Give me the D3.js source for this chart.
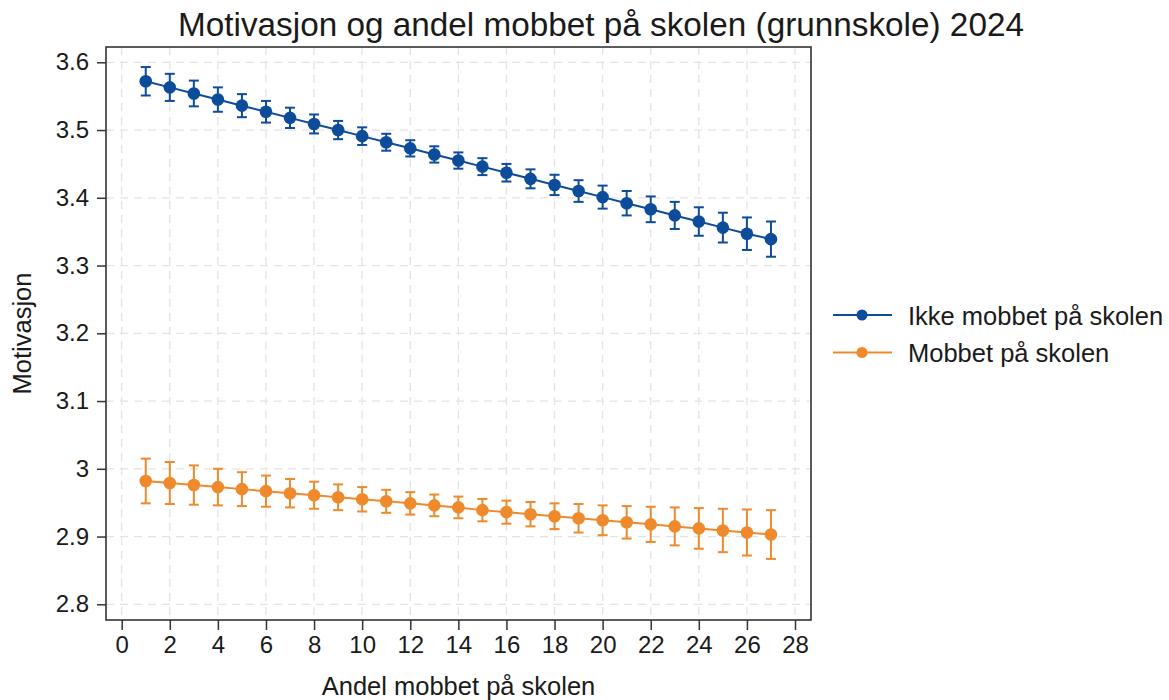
<!DOCTYPE html>
<html>
<head>
<meta charset="utf-8">
<script src="https://cdn.jsdelivr.net/npm/d3@7"></script>
<style>
  html, body { margin: 0; padding: 0; background: #ffffff; }
  svg { display: block; font-family: "Liberation Sans", Arial, sans-serif; }
</style>
</head>
<body>
<svg id="chart" width="1169" height="700"></svg>
<script>
// ---- Data ----
const xValues = [1,2,3,4,5,6,7,8,9,10,11,12,13,14,15,16,17,18,19,20,21,22,23,24,25,26,27];
const ikkeMobbet = [3.572,3.563,3.554,3.545,3.536,3.527,3.518,3.509,3.500,3.491,3.482,3.473,3.464,3.455,3.446,3.437,3.428,3.419,3.410,3.401,3.392,3.383,3.374,3.365,3.356,3.347,3.339];
const ikkeMobbetCI = [0.021,0.020,0.019,0.018,0.017,0.016,0.015,0.014,0.0135,0.013,0.0125,0.012,0.012,0.012,0.0125,0.013,0.014,0.015,0.016,0.017,0.018,0.019,0.020,0.021,0.022,0.024,0.026];
const mobbet = [2.982,2.979,2.976,2.973,2.970,2.967,2.964,2.961,2.958,2.955,2.952,2.949,2.946,2.943,2.939,2.936,2.933,2.930,2.927,2.924,2.921,2.918,2.915,2.912,2.909,2.906,2.903];
const mobbetCI = [0.033,0.031,0.029,0.027,0.025,0.023,0.021,0.020,0.019,0.018,0.017,0.0165,0.016,0.016,0.0165,0.017,0.018,0.019,0.021,0.022,0.024,0.026,0.028,0.030,0.032,0.034,0.036];
const seriesNames = ["Ikke mobbet på skolen", "Mobbet på skolen"];
const xTicks = [0,2,4,6,8,10,12,14,16,18,20,22,24,26,28];
const yTicks = [2.8,2.9,3.0,3.1,3.2,3.3,3.4,3.5,3.6];
const titleText = "Motivasjon og andel mobbet på skolen (grunnskole) 2024";
const xTitle = "Andel mobbet på skolen";
const yTitle = "Motivasjon";

// ---- Layout ----
const colors = ["#0d4c9a", "#ee8a2c"];
const frame = { left: 106, right: 811, top: 47, bottom: 620 };
const svg = d3.select("#chart");

const x = d3.scaleLinear().domain([0, 28]).range([121.7, 795]);
const y = d3.scaleLinear().domain([2.8, 3.6]).range([604.3, 62.3]);

// grid
const grid = svg.append("g").attr("stroke", "#e4e4e4").attr("stroke-width", 1.3).attr("stroke-dasharray", "8,6");
grid.selectAll("line.h").data(yTicks).join("line").attr("class", "h")
  .attr("x1", frame.left).attr("x2", frame.right)
  .attr("y1", d => y(d)).attr("y2", d => y(d));
grid.selectAll("line.v").data(xTicks).join("line").attr("class", "v")
  .attr("y1", frame.top).attr("y2", frame.bottom)
  .attr("x1", d => x(d)).attr("x2", d => x(d));

// frame
svg.append("rect").attr("x", frame.left).attr("y", frame.top)
  .attr("width", frame.right - frame.left).attr("height", frame.bottom - frame.top)
  .attr("fill", "none").attr("stroke", "#333").attr("stroke-width", 1.6);

// axes
const fmt = d => String(+d.toFixed(1));
const yAxis = svg.append("g").attr("transform", `translate(${frame.left},0)`)
  .call(d3.axisLeft(y).tickValues(yTicks).tickFormat(fmt).tickSize(9).tickPadding(8));
const xAxis = svg.append("g").attr("transform", `translate(0,${frame.bottom})`)
  .call(d3.axisBottom(x).tickValues(xTicks).tickFormat(fmt).tickSize(10).tickPadding(6));
[yAxis, xAxis].forEach(a => {
  a.select(".domain").remove();
  a.selectAll(".tick line").attr("stroke", "#333").attr("stroke-width", 1.5);
  a.selectAll(".tick text").attr("fill", "#1a1a1a")
    .style("font-size", "24px").style("font-family", "'Liberation Sans', Arial, sans-serif");
});

// series
const series = [
  { name: seriesNames[0], values: ikkeMobbet, ci: ikkeMobbetCI, color: colors[0] },
  { name: seriesNames[1], values: mobbet, ci: mobbetCI, color: colors[1] }
];
const line = d3.line().x((d, i) => x(xValues[i])).y(d => y(d));
series.forEach(s => {
  const g = svg.append("g");
  const pts = s.values.map((v, i) => ({ x: xValues[i], v, lo: v - s.ci[i], hi: v + s.ci[i] }));
  g.selectAll("line.eb").data(pts).join("line").attr("class", "eb")
    .attr("x1", d => x(d.x)).attr("x2", d => x(d.x))
    .attr("y1", d => y(d.lo)).attr("y2", d => y(d.hi))
    .attr("stroke", s.color).attr("stroke-width", 2);
  ["lo", "hi"].forEach(k => {
    g.selectAll("line.cap" + k).data(pts).join("line").attr("class", "cap" + k)
      .attr("x1", d => x(d.x) - 5).attr("x2", d => x(d.x) + 5)
      .attr("y1", d => y(d[k])).attr("y2", d => y(d[k]))
      .attr("stroke", s.color).attr("stroke-width", 2);
  });
  g.append("path").datum(s.values).attr("d", line)
    .attr("fill", "none").attr("stroke", s.color).attr("stroke-width", 2);
  g.selectAll("circle").data(pts).join("circle")
    .attr("cx", d => x(d.x)).attr("cy", d => y(d.v)).attr("r", 6.3)
    .attr("fill", s.color);
});

// titles
svg.append("text").attr("x", 601).attr("y", 36).attr("text-anchor", "middle")
  .style("font-size", "33.3px").attr("fill", "#1a1a1a").text(titleText);
svg.append("text").attr("x", (frame.left + frame.right) / 2).attr("y", 695).attr("text-anchor", "middle")
  .style("font-size", "25.5px").attr("fill", "#1a1a1a").text(xTitle);
svg.append("text").attr("transform", `translate(31,${(frame.top + frame.bottom) / 2}) rotate(-90)`)
  .attr("text-anchor", "middle").style("font-size", "25.5px").attr("fill", "#1a1a1a").text(yTitle);

// legend
const legY = [315, 352.5];
series.forEach((s, i) => {
  const g = svg.append("g");
  g.append("line").attr("x1", 833).attr("x2", 892).attr("y1", legY[i]).attr("y2", legY[i])
    .attr("stroke", s.color).attr("stroke-width", 2);
  g.append("circle").attr("cx", 862).attr("cy", legY[i]).attr("r", 5.5).attr("fill", s.color);
  g.append("text").attr("x", 908).attr("y", legY[i] + 9.5)
    .style("font-size", "25.5px").attr("fill", "#1a1a1a").text(s.name);
});
</script>
</body>
</html>
